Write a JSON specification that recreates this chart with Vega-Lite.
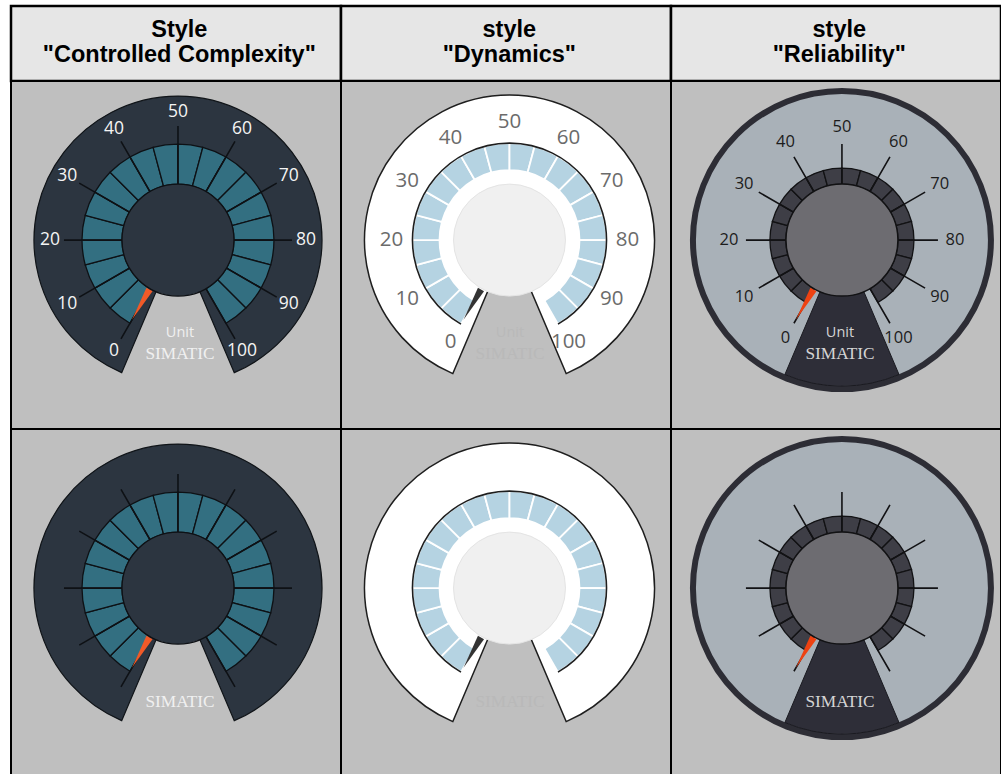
{
  "$schema": "https://vega.github.io/schema/vega-lite/v6.json",
  "padding": {"left": 9, "top": 4, "right": 0, "bottom": 0},
  "background": "#ffffff",
  "bounds": "flush",
  "spacing": 0,
  "config": {"view": {"stroke": null}},
  "datasets": {
    "headers": [
      {"style": "Controlled Complexity", "title": "Style\n\"Controlled Complexity\""},
      {"style": "Dynamics", "title": "style\n\"Dynamics\""},
      {"style": "Reliability", "title": "style\n\"Reliability\""}
    ],
    "cells": [
      {"style": "Controlled Complexity", "variant": "with scale labels"},
      {"style": "Dynamics", "variant": "with scale labels"},
      {"style": "Reliability", "variant": "with scale labels"},
      {"style": "Controlled Complexity", "variant": "without scale labels"},
      {"style": "Dynamics", "variant": "without scale labels"},
      {"style": "Reliability", "variant": "without scale labels"}
    ],
    "segs": [
      {"v": 0, "v2": 5, "variant": ["with scale labels", "without scale labels"]},
      {"v": 5, "v2": 10, "variant": ["with scale labels", "without scale labels"]},
      {"v": 10, "v2": 15, "variant": ["with scale labels", "without scale labels"]},
      {"v": 15, "v2": 20, "variant": ["with scale labels", "without scale labels"]},
      {"v": 20, "v2": 25, "variant": ["with scale labels", "without scale labels"]},
      {"v": 25, "v2": 30, "variant": ["with scale labels", "without scale labels"]},
      {"v": 30, "v2": 35, "variant": ["with scale labels", "without scale labels"]},
      {"v": 35, "v2": 40, "variant": ["with scale labels", "without scale labels"]},
      {"v": 40, "v2": 45, "variant": ["with scale labels", "without scale labels"]},
      {"v": 45, "v2": 50, "variant": ["with scale labels", "without scale labels"]},
      {"v": 50, "v2": 55, "variant": ["with scale labels", "without scale labels"]},
      {"v": 55, "v2": 60, "variant": ["with scale labels", "without scale labels"]},
      {"v": 60, "v2": 65, "variant": ["with scale labels", "without scale labels"]},
      {"v": 65, "v2": 70, "variant": ["with scale labels", "without scale labels"]},
      {"v": 70, "v2": 75, "variant": ["with scale labels", "without scale labels"]},
      {"v": 75, "v2": 80, "variant": ["with scale labels", "without scale labels"]},
      {"v": 80, "v2": 85, "variant": ["with scale labels", "without scale labels"]},
      {"v": 85, "v2": 90, "variant": ["with scale labels", "without scale labels"]},
      {"v": 90, "v2": 95, "variant": ["with scale labels", "without scale labels"]},
      {"v": 95, "v2": 100, "variant": ["with scale labels", "without scale labels"]}
    ],
    "ticks": [
      {"v": 0, "variant": ["with scale labels", "without scale labels"]},
      {"v": 10, "variant": ["with scale labels", "without scale labels"]},
      {"v": 20, "variant": ["with scale labels", "without scale labels"]},
      {"v": 30, "variant": ["with scale labels", "without scale labels"]},
      {"v": 40, "variant": ["with scale labels", "without scale labels"]},
      {"v": 50, "variant": ["with scale labels", "without scale labels"]},
      {"v": 60, "variant": ["with scale labels", "without scale labels"]},
      {"v": 70, "variant": ["with scale labels", "without scale labels"]},
      {"v": 80, "variant": ["with scale labels", "without scale labels"]},
      {"v": 90, "variant": ["with scale labels", "without scale labels"]},
      {"v": 100, "variant": ["with scale labels", "without scale labels"]}
    ],
    "labels": [
      {"v": 0}, {"v": 10}, {"v": 20}, {"v": 30}, {"v": 40}, {"v": 50},
      {"v": 60}, {"v": 70}, {"v": 80}, {"v": 90}, {"v": 100}
    ],
    "needles": [
      {"v": 0, "variant": "with scale labels"},
      {"v": 0, "variant": "without scale labels"}
    ],
    "captions": [
      {"style": "Controlled Complexity", "variant": "with scale labels", "line": "Unit"},
      {"style": "Controlled Complexity", "variant": "with scale labels", "line": "SIMATIC"},
      {"style": "Controlled Complexity", "variant": "without scale labels", "line": "SIMATIC"},
      {"style": "Dynamics", "variant": "with scale labels", "line": "Unit"},
      {"style": "Dynamics", "variant": "with scale labels", "line": "SIMATIC"},
      {"style": "Dynamics", "variant": "without scale labels", "line": "SIMATIC"},
      {"style": "Reliability", "variant": "with scale labels", "line": "Unit"},
      {"style": "Reliability", "variant": "with scale labels", "line": "SIMATIC"},
      {"style": "Reliability", "variant": "without scale labels", "line": "SIMATIC"}
    ]
  },
  "vconcat": [
    {
      "width": 990,
      "height": 75,
      "data": {"name": "headers"},
      "layer": [
        {
          "mark": {"type": "rect", "fill": "#e6e6e6", "stroke": "#000000", "strokeWidth": 2.5},
          "encoding": {
            "x": {"field": "style", "type": "nominal", "axis": null, "scale": {"domain": ["Controlled Complexity", "Dynamics", "Reliability"], "paddingInner": 0, "paddingOuter": 0}}
          }
        },
        {
          "mark": {"type": "text", "lineBreak": "\n", "font": "Liberation Sans", "fontWeight": "bold", "fontSize": 23.5, "lineHeight": 25.5, "align": "center", "baseline": "middle", "dy": -14, "fill": "#000000"},
          "encoding": {
            "x": {"field": "style", "type": "nominal", "bandPosition": 0.51, "axis": null, "scale": {"domain": ["Controlled Complexity", "Dynamics", "Reliability"], "paddingInner": 0, "paddingOuter": 0}},
            "text": {"field": "title", "type": "nominal"}
          }
        }
      ]
    },
    {
      "width": 990,
      "height": 696,
      "layer": [
        {
          "data": {"name": "cells"},
          "mark": {"type": "rect", "fill": "#bfbfbf", "stroke": "#000000", "strokeWidth": 2},
          "encoding": {
            "x": {"field": "style", "type": "nominal", "axis": null, "scale": {"domain": ["Controlled Complexity", "Dynamics", "Reliability"], "paddingInner": 0, "paddingOuter": 0}},
            "y": {"field": "variant", "type": "nominal", "axis": null, "scale": {"domain": ["with scale labels", "without scale labels"], "paddingInner": 0, "paddingOuter": 0}}
          }
        },
        {
          "data": {"name": "cells"},
          "transform": [{"filter": "datum.style === 'Controlled Complexity'"}],
          "mark": {"type": "arc", "theta": -2.74, "theta2": 2.74, "innerRadius": 0, "outerRadius": 144, "fill": "#2c3540", "stroke": "#101418", "strokeWidth": 1.2},
          "encoding": {
            "x": {"field": "style", "type": "nominal", "bandPosition": 0.506, "axis": null},
            "y": {"field": "variant", "type": "nominal", "bandPosition": 0.4572, "axis": null}
          }
        },
        {
          "data": {"name": "segs"},
          "transform": [{"flatten": ["variant"]}],
          "mark": {"type": "arc", "innerRadius": 56, "outerRadius": 96, "fill": "#336f81", "stroke": "#0e1115", "strokeWidth": 1.3},
          "encoding": {
            "x": {"datum": "Controlled Complexity", "type": "nominal", "bandPosition": 0.506, "axis": null},
            "y": {"field": "variant", "type": "nominal", "bandPosition": 0.4572, "axis": null},
            "theta": {"field": "v", "type": "quantitative", "stack": null, "scale": {"type": "linear", "domain": [0, 100], "range": [-2.618, 2.618]}},
            "theta2": {"field": "v2"}
          }
        },
        {
          "data": {"name": "ticks"},
          "transform": [{"flatten": ["variant"]}],
          "mark": {"type": "arc", "innerRadius": 56, "outerRadius": 114, "fill": "transparent", "stroke": "#0e1115", "strokeWidth": 1.6},
          "encoding": {
            "x": {"datum": "Controlled Complexity", "type": "nominal", "bandPosition": 0.506, "axis": null},
            "y": {"field": "variant", "type": "nominal", "bandPosition": 0.4572, "axis": null},
            "theta": {"field": "v", "type": "quantitative", "stack": null, "scale": {"type": "linear", "domain": [0, 100], "range": [-2.618, 2.618]}},
            "theta2": {"field": "v"}
          }
        },
        {
          "data": {"name": "cells"},
          "transform": [{"filter": "datum.style === 'Controlled Complexity'"}],
          "mark": {"type": "arc", "theta": 0, "theta2": 6.2832, "innerRadius": 0, "outerRadius": 56, "fill": "#2c3540", "stroke": "#0e1115", "strokeWidth": 1.3},
          "encoding": {
            "x": {"field": "style", "type": "nominal", "bandPosition": 0.506, "axis": null},
            "y": {"field": "variant", "type": "nominal", "bandPosition": 0.4572, "axis": null}
          }
        },
        {
          "data": {"name": "needles"},
          "mark": {"type": "point", "shape": "M -0.035 -0.57 L 0.035 -0.57 L 0 -0.92 Z", "size": 40000, "filled": true, "fill": "#f05a28", "opacity": 1, "strokeWidth": 0},
          "encoding": {
            "x": {"datum": "Controlled Complexity", "type": "nominal", "bandPosition": 0.506, "axis": null},
            "y": {"field": "variant", "type": "nominal", "bandPosition": 0.4572, "axis": null},
            "angle": {"field": "v", "type": "quantitative", "scale": {"domain": [0, 100], "range": [-150, 150]}}
          }
        },
        {
          "data": {"name": "labels"},
          "mark": {"type": "text", "radius": 128, "font": "Open Sans", "fontSize": 17.5, "fill": "#f4f4f4", "align": "center", "baseline": "middle"},
          "encoding": {
            "x": {"datum": "Controlled Complexity", "type": "nominal", "bandPosition": 0.506, "axis": null},
            "y": {"datum": "with scale labels", "type": "nominal", "bandPosition": 0.4572, "axis": null},
            "theta": {"field": "v", "type": "quantitative", "stack": null, "scale": {"type": "linear", "domain": [0, 100], "range": [-2.618, 2.618]}},
            "text": {"field": "v", "type": "quantitative", "format": "d"}
          }
        },
        {
          "data": {"name": "cells"},
          "transform": [{"filter": "datum.style === 'Dynamics'"}],
          "mark": {"type": "arc", "theta": -2.74, "theta2": 2.74, "innerRadius": 0, "outerRadius": 145, "fill": "#ffffff", "stroke": "#1e1e1e", "strokeWidth": 1.5},
          "encoding": {
            "x": {"field": "style", "type": "nominal", "bandPosition": 0.5106, "axis": null},
            "y": {"field": "variant", "type": "nominal", "bandPosition": 0.4572, "axis": null}
          }
        },
        {
          "data": {"name": "segs"},
          "transform": [{"flatten": ["variant"]}],
          "mark": {"type": "arc", "innerRadius": 70, "outerRadius": 97, "fill": "#b5d3e2", "stroke": "#ffffff", "strokeWidth": 1.8},
          "encoding": {
            "x": {"datum": "Dynamics", "type": "nominal", "bandPosition": 0.5106, "axis": null},
            "y": {"field": "variant", "type": "nominal", "bandPosition": 0.4572, "axis": null},
            "theta": {"field": "v", "type": "quantitative", "stack": null, "scale": {"type": "linear", "domain": [0, 100], "range": [-2.618, 2.618]}},
            "theta2": {"field": "v2"}
          }
        },
        {
          "data": {"name": "cells"},
          "transform": [{"filter": "datum.style === 'Dynamics'"}],
          "mark": {"type": "arc", "theta": -2.618, "theta2": 2.618, "innerRadius": 97, "outerRadius": 97, "fill": "transparent", "stroke": "#1e1e1e", "strokeWidth": 1.6},
          "encoding": {
            "x": {"field": "style", "type": "nominal", "bandPosition": 0.5106, "axis": null},
            "y": {"field": "variant", "type": "nominal", "bandPosition": 0.4572, "axis": null}
          }
        },
        {
          "data": {"name": "cells"},
          "transform": [{"filter": "datum.style === 'Dynamics'"}],
          "mark": {"type": "arc", "theta": 0, "theta2": 6.2832, "innerRadius": 0, "outerRadius": 56, "fill": "#f0f0f0", "stroke": "#e4e4e4", "strokeWidth": 1},
          "encoding": {
            "x": {"field": "style", "type": "nominal", "bandPosition": 0.5106, "axis": null},
            "y": {"field": "variant", "type": "nominal", "bandPosition": 0.4572, "axis": null}
          }
        },
        {
          "data": {"name": "needles"},
          "mark": {"type": "point", "shape": "M -0.035 -0.57 L 0.035 -0.57 L 0 -0.92 Z", "size": 40000, "filled": true, "fill": "#333333", "opacity": 1, "strokeWidth": 0},
          "encoding": {
            "x": {"datum": "Dynamics", "type": "nominal", "bandPosition": 0.5106, "axis": null},
            "y": {"field": "variant", "type": "nominal", "bandPosition": 0.4572, "axis": null},
            "angle": {"field": "v", "type": "quantitative", "scale": {"domain": [0, 100], "range": [-150, 150]}}
          }
        },
        {
          "data": {"name": "labels"},
          "mark": {"type": "text", "radius": 118, "font": "Open Sans", "fontSize": 20.5, "fill": "#6b6b6b", "align": "center", "baseline": "middle"},
          "encoding": {
            "x": {"datum": "Dynamics", "type": "nominal", "bandPosition": 0.5106, "axis": null},
            "y": {"datum": "with scale labels", "type": "nominal", "bandPosition": 0.4572, "axis": null},
            "theta": {"field": "v", "type": "quantitative", "stack": null, "scale": {"type": "linear", "domain": [0, 100], "range": [-2.618, 2.618]}},
            "text": {"field": "v", "type": "quantitative", "format": "d"}
          }
        },
        {
          "data": {"name": "cells"},
          "transform": [{"filter": "datum.style === 'Reliability'"}],
          "mark": {"type": "arc", "theta": 0, "theta2": 6.2832, "innerRadius": 0, "outerRadius": 149, "fill": "#a9b1b8", "stroke": "#2d2d35", "strokeWidth": 6},
          "encoding": {
            "x": {"field": "style", "type": "nominal", "bandPosition": 0.518, "axis": null},
            "y": {"field": "variant", "type": "nominal", "bandPosition": 0.4572, "axis": null}
          }
        },
        {
          "data": {"name": "cells"},
          "transform": [{"filter": "datum.style === 'Reliability'"}],
          "mark": {"type": "arc", "theta": 2.74, "theta2": 3.543, "innerRadius": 0, "outerRadius": 146, "fill": "#2e2e38", "stroke": "#1a1a20", "strokeWidth": 1},
          "encoding": {
            "x": {"field": "style", "type": "nominal", "bandPosition": 0.518, "axis": null},
            "y": {"field": "variant", "type": "nominal", "bandPosition": 0.4572, "axis": null}
          }
        },
        {
          "data": {"name": "segs"},
          "transform": [{"flatten": ["variant"]}],
          "mark": {"type": "arc", "innerRadius": 56, "outerRadius": 72, "fill": "#3e3e46", "stroke": "#121214", "strokeWidth": 1.3},
          "encoding": {
            "x": {"datum": "Reliability", "type": "nominal", "bandPosition": 0.518, "axis": null},
            "y": {"field": "variant", "type": "nominal", "bandPosition": 0.4572, "axis": null},
            "theta": {"field": "v", "type": "quantitative", "stack": null, "scale": {"type": "linear", "domain": [0, 100], "range": [-2.618, 2.618]}},
            "theta2": {"field": "v2"}
          }
        },
        {
          "data": {"name": "ticks"},
          "transform": [{"flatten": ["variant"]}],
          "mark": {"type": "arc", "innerRadius": 56, "outerRadius": 96, "fill": "transparent", "stroke": "#121214", "strokeWidth": 1.6},
          "encoding": {
            "x": {"datum": "Reliability", "type": "nominal", "bandPosition": 0.518, "axis": null},
            "y": {"field": "variant", "type": "nominal", "bandPosition": 0.4572, "axis": null},
            "theta": {"field": "v", "type": "quantitative", "stack": null, "scale": {"type": "linear", "domain": [0, 100], "range": [-2.618, 2.618]}},
            "theta2": {"field": "v"}
          }
        },
        {
          "data": {"name": "cells"},
          "transform": [{"filter": "datum.style === 'Reliability'"}],
          "mark": {"type": "arc", "theta": 0, "theta2": 6.2832, "innerRadius": 0, "outerRadius": 56, "fill": "#6d6c71", "stroke": "#121214", "strokeWidth": 1.5},
          "encoding": {
            "x": {"field": "style", "type": "nominal", "bandPosition": 0.518, "axis": null},
            "y": {"field": "variant", "type": "nominal", "bandPosition": 0.4572, "axis": null}
          }
        },
        {
          "data": {"name": "needles"},
          "mark": {"type": "point", "shape": "M -0.035 -0.57 L 0.035 -0.57 L 0 -0.92 Z", "size": 40000, "filled": true, "fill": "#ee4212", "opacity": 1, "strokeWidth": 0},
          "encoding": {
            "x": {"datum": "Reliability", "type": "nominal", "bandPosition": 0.518, "axis": null},
            "y": {"field": "variant", "type": "nominal", "bandPosition": 0.4572, "axis": null},
            "angle": {"field": "v", "type": "quantitative", "scale": {"domain": [0, 100], "range": [-150, 150]}}
          }
        },
        {
          "data": {"name": "labels"},
          "mark": {"type": "text", "radius": 113, "font": "Open Sans", "fontSize": 16.5, "fill": "#1c1c1c", "align": "center", "baseline": "middle"},
          "encoding": {
            "x": {"datum": "Reliability", "type": "nominal", "bandPosition": 0.518, "axis": null},
            "y": {"datum": "with scale labels", "type": "nominal", "bandPosition": 0.4572, "axis": null},
            "theta": {"field": "v", "type": "quantitative", "stack": null, "scale": {"type": "linear", "domain": [0, 100], "range": [-2.618, 2.618]}},
            "text": {"field": "v", "type": "quantitative", "format": "d"}
          }
        },
        {
          "data": {"name": "captions"},
          "transform": [{"filter": "datum.line === 'Unit'"}],
          "mark": {"type": "text", "theta": 3.1416, "radius": 93, "font": "Open Sans", "fontSize": 14.5, "align": "center", "baseline": "middle"},
          "encoding": {
            "x": {"field": "style", "type": "nominal", "bandPosition": 0.512, "axis": null},
            "y": {"field": "variant", "type": "nominal", "bandPosition": 0.4572, "axis": null},
            "text": {"field": "line", "type": "nominal"},
            "color": {"field": "style", "type": "nominal", "legend": null, "scale": {"domain": ["Controlled Complexity", "Dynamics", "Reliability"], "range": ["#f0f0f0", "#b9b9b9", "#d4d4d4"]}}
          }
        },
        {
          "data": {"name": "captions"},
          "transform": [{"filter": "datum.line === 'SIMATIC'"}],
          "mark": {"type": "text", "theta": 3.1416, "radius": 113.5, "font": "Liberation Serif", "fontSize": 17.3, "align": "center", "baseline": "middle"},
          "encoding": {
            "x": {"field": "style", "type": "nominal", "bandPosition": 0.512, "axis": null},
            "y": {"field": "variant", "type": "nominal", "bandPosition": 0.4572, "axis": null},
            "text": {"field": "line", "type": "nominal"},
            "color": {"field": "style", "type": "nominal", "legend": null, "scale": {"domain": ["Controlled Complexity", "Dynamics", "Reliability"], "range": ["#f0f0f0", "#b9b9b9", "#d4d4d4"]}}
          }
        }
      ]
    }
  ]
}
